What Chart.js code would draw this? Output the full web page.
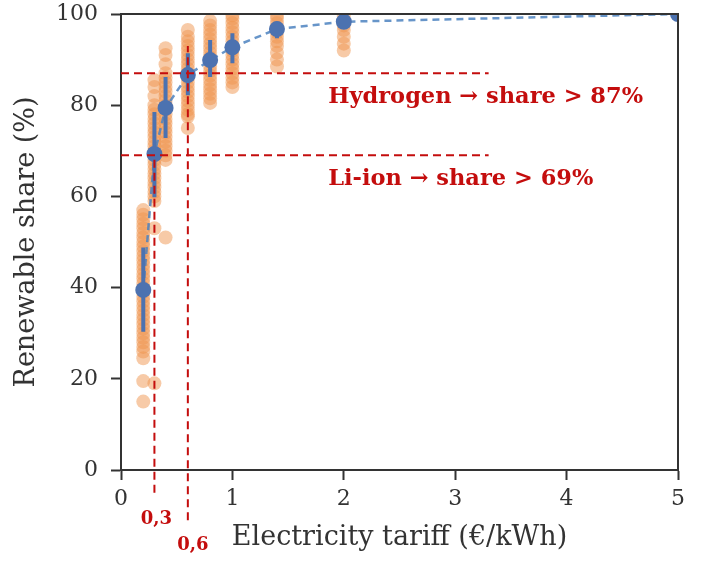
<!DOCTYPE html>
<html>
<head>
<meta charset="utf-8">
<script src="https://cdn.jsdelivr.net/npm/chart.js@4"></script>
<style>
  html, body { margin: 0; padding: 0; background: #fff; }
  #wrap { width: 708px; height: 563px; }
</style>
</head>
<body>
<div id="wrap"><canvas id="shareChart"></canvas></div>
<script>
// Renewable share vs electricity tariff
const tariffs = [0.2, 0.3, 0.4, 0.6, 0.8, 1.0, 1.4, 2.0, 5.0];

// individual runs per tariff
const runs02 = [15, 19.5, 24.5, 26, 27, 28, 29, 30, 31, 32, 33, 34, 35, 36, 37, 38, 39, 40, 41, 42, 43, 44, 45, 46, 47, 48, 49, 50, 51, 52, 53, 54, 55, 56, 57];
const runs03 = [19, 53, 59, 60, 61, 62, 63, 64, 65, 66, 67, 68, 69, 70, 71, 72, 73, 74, 75, 76, 77, 78, 79, 80, 82, 84, 85.5];
const runs04 = [51, 68, 69, 70, 71, 72, 73, 74, 75, 76, 77, 78, 79, 80, 81, 82, 83, 84, 85, 86, 87, 89, 91, 92.5];
const runs06 = [75, 77.5, 78, 79, 80, 81, 82, 83, 84, 85, 86, 87, 88, 89, 90, 91, 92, 93, 94, 95, 96.5];
const runs08 = [80.5, 81.5, 82.5, 83.5, 84.5, 85.5, 86.5, 87.5, 88.5, 89.5, 90.5, 91.5, 92.5, 93.5, 94.5, 95.5, 96.5, 97.5, 98.5];
const runs10 = [84, 85, 86, 87, 88, 89, 90, 91, 92, 93, 94, 95, 96, 97, 98, 99, 99.7];
const runs14 = [88.5, 90, 91.5, 93, 94, 95, 96, 97, 98, 99, 99.7];
const runs20 = [92, 93.5, 95, 96.5, 97.5, 98.5, 99.5];
const runs50 = [100, 100];
const runsByTariff = [runs02, runs03, runs04, runs06, runs08, runs10, runs14, runs20, runs50];

// mean and spread
const meanShare = [39.5, 69.3, 79.4, 86.6, 89.9, 92.7, 96.7, 98.3, 100];
const lowShare  = [30.3, 59.8, 72.8, 82.2, 86.2, 89.2, 94.7, 97.2, 100];
const highShare = [48.8, 78.5, 86.2, 91.4, 94.3, 95.8, 98.3, 99.4, 100];

// thresholds
const thresholdTariff = [0.3, 0.6];
const thresholdShare = [69, 87];
const thresholdTariffLabels = ['0,3', '0,6'];
const thresholdNotes = ['Li-ion \u2192 share > 69%', 'Hydrogen \u2192 share > 87%'];

const RED = '#c40d0d';
const AXIS = '#333333';
const FONT = '"DejaVu Serif", serif';

const scatterPts = [];
tariffs.forEach((t, i) => runsByTariff[i].forEach(v => scatterPts.push({ x: t, y: v })));

const errPts = [];
tariffs.forEach((t, i) => {
  errPts.push({ x: t, y: lowShare[i] }, { x: t, y: highShare[i] }, { x: t, y: null });
});
const meanPts = tariffs.map((t, i) => ({ x: t, y: meanShare[i] }));

function redLine(points) {
  return {
    type: 'line', data: points, showLine: true, clip: false,
    borderColor: RED, borderWidth: 2, borderDash: [8, 5],
    pointRadius: 0, fill: false
  };
}

// frame on top/right plus red annotation texts
const extrasPlugin = {
  id: 'extras',
  afterDatasetsDraw(chart) {
    const { ctx, chartArea: a, scales: { x, y } } = chart;
    ctx.save();
    ctx.strokeStyle = AXIS;
    ctx.lineWidth = 2;
    ctx.beginPath();
    ctx.moveTo(a.left, a.top);
    ctx.lineTo(a.right, a.top);
    ctx.lineTo(a.right, a.bottom);
    ctx.stroke();

    ctx.fillStyle = RED;
    ctx.font = 'bold 22.5px ' + FONT;
    ctx.textBaseline = 'middle';
    ctx.textAlign = 'left';
    ctx.fillText(thresholdNotes[1], x.getPixelForValue(1.86), y.getPixelForValue(81.8));
    ctx.fillText(thresholdNotes[0], x.getPixelForValue(1.86), y.getPixelForValue(63.8));

    ctx.font = 'bold 18px ' + FONT;
    ctx.textAlign = 'center';
    ctx.fillText(thresholdTariffLabels[0], x.getPixelForValue(thresholdTariff[0]) + 2, a.bottom + 49);
    ctx.fillText(thresholdTariffLabels[1], x.getPixelForValue(thresholdTariff[1]) + 5, a.bottom + 75);
    ctx.restore();
  }
};

new Chart(document.getElementById('shareChart'), {
  type: 'scatter',
  data: {
    datasets: [
      redLine([{ x: 0, y: thresholdShare[1] }, { x: 3.3, y: thresholdShare[1] }]),
      redLine([{ x: 0, y: thresholdShare[0] }, { x: 3.3, y: thresholdShare[0] }]),
      redLine([{ x: thresholdTariff[0], y: -5 }, { x: thresholdTariff[0], y: thresholdShare[0] }]),
      redLine([{ x: thresholdTariff[1], y: -11 }, { x: thresholdTariff[1], y: 93 }]),
      {
        data: meanPts, pointRadius: 8, pointBackgroundColor: '#4c72b0',
        pointBorderWidth: 0, showLine: false
      },
      {
        type: 'line', data: errPts, showLine: true, spanGaps: false,
        borderColor: '#4c72b0', borderWidth: 4, pointRadius: 0, borderCapStyle: 'butt'
      },
      {
        type: 'line', data: meanPts, showLine: true,
        borderColor: 'rgba(76,130,192,0.85)', borderWidth: 2.5, borderDash: [7, 5],
        pointRadius: 0, tension: 0
      },
      {
        data: scatterPts, pointRadius: 7, pointBorderWidth: 0,
        pointBackgroundColor: 'rgba(240,150,80,0.5)'
      }
    ]
  },
  options: {
    responsive: true,
    maintainAspectRatio: false,
    animation: false,
    events: [],
    layout: { padding: { top: 14, right: 30, left: 0, bottom: 0 } },
    plugins: { legend: { display: false }, tooltip: { enabled: false } },
    scales: {
      x: {
        type: 'linear', min: 0, max: 5,
        afterFit: s => { s.height = 93; s.paddingLeft = 0; s.paddingRight = 0; },
        border: { display: true, color: AXIS, width: 2 },
        grid: { drawOnChartArea: false, drawTicks: true, tickLength: 10, tickColor: AXIS, tickWidth: 2 },
        ticks: { stepSize: 1, color: AXIS, font: { family: FONT, size: 22 }, padding: 6, maxRotation: 0 },
        title: { display: true, text: 'Electricity tariff (\u20ac/kWh)', color: AXIS, font: { family: FONT, size: 27 }, padding: { top: 0, bottom: 9 } }
      },
      y: {
        min: 0, max: 100,
        afterFit: s => { s.width = 121; s.paddingTop = 0; s.paddingBottom = 0; },
        border: { display: true, color: AXIS, width: 2 },
        grid: { drawOnChartArea: false, drawTicks: true, tickLength: 10, tickColor: AXIS, tickWidth: 2 },
        ticks: { stepSize: 20, color: AXIS, font: { family: FONT, size: 22 }, padding: 13 },
        title: { display: true, text: 'Renewable share (%)', color: AXIS, font: { family: FONT, size: 27 }, padding: { top: 11, bottom: 0 } }
      }
    }
  },
  plugins: [extrasPlugin]
});
</script>
</body>
</html>
